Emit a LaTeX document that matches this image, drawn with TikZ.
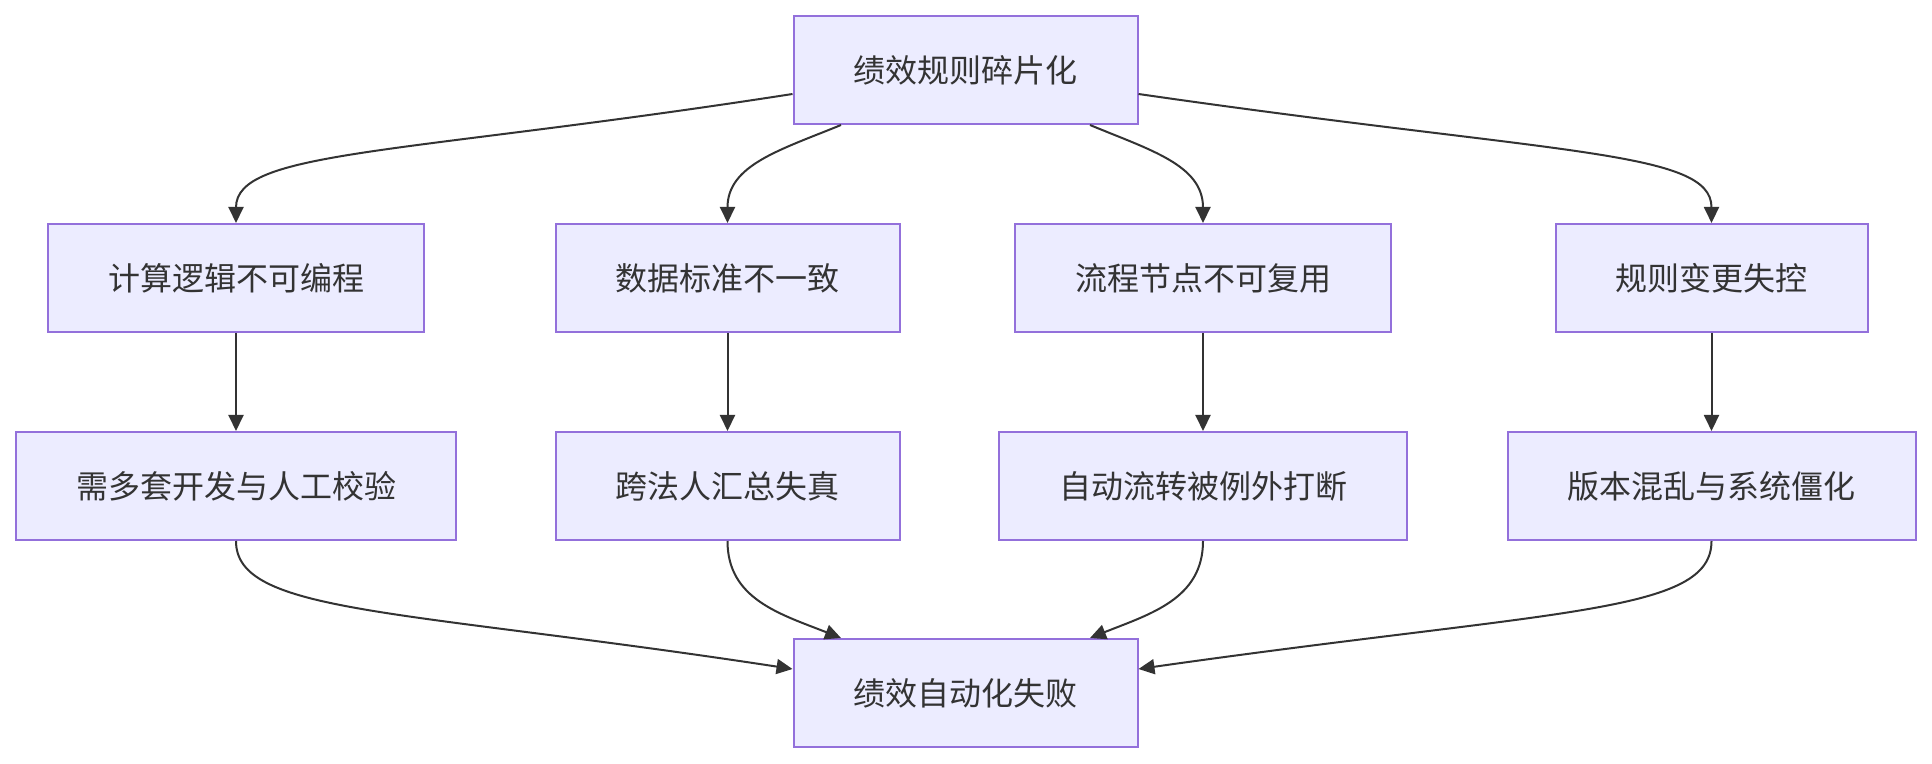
\documentclass[tikz,border=0pt]{standalone}
\usepackage{fontspec}
\setmainfont{Noto Sans CJK SC}
\usetikzlibrary{arrows.meta,calc}
\definecolor{boxfill}{HTML}{ECECFF}
\definecolor{boxline}{HTML}{9370DB}
\definecolor{ink}{HTML}{333333}

\begin{document}
\begin{tikzpicture}[x=0.5pt,y=-0.5pt,
  box/.style={draw=boxline, fill=boxfill, line width=1pt, inner xsep=30pt, inner ysep=0pt, minimum height=54pt, text=ink, font=\fontsize{16pt}{19pt}\selectfont},
  link/.style={draw=ink, line width=1pt, -{Triangle[length=8pt,width=7.5pt]}}]
\useasboundingbox (0,0) rectangle (1932,764);
\node[box] (frag) at (965.5,70) {绩效规则碎片化};
\node[box] (logic) at (236,278) {计算逻辑不可编程};
\node[box] (data) at (727.5,278) {数据标准不一致};
\node[box] (flow) at (1203,278) {流程节点不可复用};
\node[box] (rule) at (1711.5,278) {规则变更失控};
\node[box] (dev) at (236,486) {需多套开发与人工校验};
\node[box] (merge) at (727.5,486) {跨法人汇总失真};
\node[box] (route) at (1203,486) {自动流转被例外打断};
\node[box] (version) at (1711.5,486) {版本混乱与系统僵化};
\node[box] (fail) at (965.5,693) {绩效自动化失败};
\draw[link] ($(frag.west)+(0,24)$) .. controls (400,155) and (236,150) .. (logic.north);
\draw[link] ($(frag.south)+(-124.5,0)$) .. controls (780,150) and (727.5,165) .. (data.north);
\draw[link] ($(frag.south)+(124.5,0)$) .. controls (1150,150) and (1203,165) .. (flow.north);
\draw[link] ($(frag.east)+(0,24)$) .. controls (1560,155) and (1711.5,150) .. (rule.north);
\draw[link] (logic) -- (dev);
\draw[link] (data) -- (merge);
\draw[link] (flow) -- (route);
\draw[link] (rule) -- (version);
\draw[link] (dev.south) .. controls (236,614) and (400,609) .. ($(fail.west)+(0,-24)$);
\draw[link] (merge.south) .. controls (727.5,599) and (780,614) .. ($(fail.north)+(-124.5,0)$);
\draw[link] (route.south) .. controls (1203,599) and (1150,614) .. ($(fail.north)+(124.5,0)$);
\draw[link] (version.south) .. controls (1711.5,614) and (1560,609) .. ($(fail.east)+(0,-24)$);
\end{tikzpicture}
\end{document}
